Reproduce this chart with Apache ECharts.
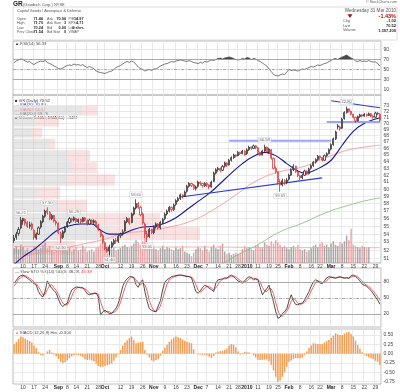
<!DOCTYPE html>
<html><head><meta charset="utf-8">
<script src="https://cdn.jsdelivr.net/npm/echarts@6/dist/echarts.min.js"></script>
<style>html,body{margin:0;padding:0;background:#fff}#c{width:400px;height:392px}</style>
</head><body><div id="c"></div>
<script>
// ---------- categories (trading days) ----------
const holidays = ['2009-09-07','2009-11-26','2009-12-25','2010-01-01','2010-01-18','2010-02-15'];
const dates = [];
for (let t = Date.UTC(2009,7,4); t <= Date.UTC(2010,2,31); t += 86400000) {
  const d = new Date(t), wd = d.getUTCDay(), s = d.toISOString().slice(0,10);
  if (wd === 0 || wd === 6 || holidays.includes(s)) continue;
  dates.push(s);
}
// ---------- price data ----------
const open = [53.2,53.6,54.1,54.8,55.7,55.9,55.5,55.0,55.3,54.5, 53.5,54.0,54.9,55.6,56.3,57.1,56.8,56.0,56.4,55.6, 55.4,54.1,53.6,54.3,55.0,55.5,56.0,55.8,56.0,55.6, 55.9,55.6,56.1,55.7,55.3,55.8,55.5,55.6,55.1,54.5, 53.8,52.9,52.2,51.9,52.4,52.8,53.2,53.1,53.8,54.0, 54.4,55.6,56.0,55.5,56.6,57.4,58.0,57.5,56.6,55.3, 54.0,53.7,54.6,54.2,54.9,55.3,54.8,55.5,56.0,56.6, 57.0,57.5,57.2,57.9,58.4,58.7,59.2,59.0,59.7,60.4, 60.8,60.6,60.1,60.4,61.0,60.8,60.5,60.8,60.6,60.3, 61.1,62.3,62.8,63.0,62.7,63.3,63.8,63.5,64.2,64.6, 65.0,64.9,65.4,65.2,65.6,65.2,65.8,66.2,66.0,66.4, 66.1,65.4,65.0,65.6,66.2,65.5,65.8,64.5,63.0,62.5, 61.0,60.6,61.2,60.9,61.4,62.0,62.8,63.3,62.5,61.9, 61.6,62.0,62.6,62.2,63.0,63.4,63.9,64.3,64.8,64.6, 64.2,64.9,65.2,65.9,66.6,67.5,69.6,69.4,69.2,70.8, 71.8,72.4,72.0,71.5,71.0,70.4,71.1,71.4,71.2,71.5, 71.3,71.6,71.2,71.0,71.7,71.46];
const high = [53.9,54.3,54.9,56.21,56.1,56.0,55.7,55.6,55.5,54.6, 54.2,55.0,55.8,56.5,57.2,57.50,57.0,56.6,56.5,55.8, 55.5,54.3,54.5,55.0,55.7,56.2,56.1,56.29,56.1,56.0, 56.0,56.2,56.2,55.9,56.0,55.9,55.9,55.8,55.3,54.6, 54.0,53.1,52.4,52.7,53.1,53.4,53.5,53.9,54.2,54.6, 55.8,56.2,56.1,56.8,57.6,58.60,58.2,57.7,56.8,55.5, 54.4,54.8,54.7,55.1,55.5,55.4,55.7,56.1,56.8,57.2, 57.7,57.6,58.0,58.6,58.9,59.4,59.3,59.8,60.6,61.0, 60.9,60.7,60.5,61.2,61.1,60.9,61.0,61.0,60.7,61.2, 62.5,63.0,63.2,63.1,63.5,64.0,63.9,64.4,64.8,65.2, 65.1,65.6,65.5,65.8,65.7,66.0,66.4,66.3,66.6,66.5, 66.2,65.5,65.8,66.58,66.3,66.1,65.9,64.6,63.3,62.6, 61.4,61.5,61.4,61.6,62.2,63.0,63.6,63.4,62.6,62.0, 62.2,62.8,62.7,63.1,63.6,64.1,64.5,65.0,64.9,64.7, 65.1,65.4,66.0,66.8,67.7,68.8,69.9,69.6,70.9,72.0, 72.80,72.5,72.1,71.6,71.1,71.3,71.6,71.5,71.7,71.6, 71.8,71.7,71.4,71.9,71.9,71.70];
const low = [52.9,53.3,53.8,54.6,55.2,55.1,54.8,54.7,54.5,53.3, 53.3,53.9,54.7,55.4,56.1,56.5,55.8,55.8,55.5,55.1, 54.0,52.90,53.4,54.1,54.8,55.3,55.5,55.6,55.4,55.4, 55.3,55.5,55.6,55.1,55.2,55.3,55.3,54.9,54.4,53.6, 52.8,52.0,51.7,51.40,52.2,52.6,52.8,52.9,53.5,53.8, 54.3,55.4,55.2,55.4,56.4,57.2,57.3,56.3,55.2,53.5, 53.00,53.5,54.0,54.0,54.7,54.6,54.6,55.3,55.8,56.4, 56.8,56.9,57.0,57.7,58.2,58.5,58.7,58.9,59.5,60.2, 60.3,59.9,59.8,60.2,60.5,60.2,60.3,60.3,60.0,60.2, 61.0,62.1,62.5,62.4,62.6,63.1,63.2,63.4,64.0,64.4, 64.6,64.8,65.0,65.1,64.9,65.0,65.6,65.8,65.9,65.9, 65.2,64.8,64.9,65.5,65.3,65.2,64.3,62.8,62.2,60.7, 59.65,60.4,60.6,60.7,61.2,61.9,62.6,62.3,61.7,61.3, 61.4,61.9,62.0,62.1,62.8,63.2,63.7,64.1,64.3,64.0, 64.1,64.7,65.1,65.7,66.4,67.3,69.0,68.8,69.1,70.6, 71.6,71.8,71.3,70.8,70.1,70.3,70.9,71.0,71.1,71.1, 71.2,71.0,70.8,70.9,71.3,70.24];
const close = [53.5,54.0,54.6,55.8,56.0,55.4,55.0,55.2,54.7,53.6, 54.0,54.8,55.6,56.3,57.0,56.8,56.0,56.4,55.7,55.4, 54.2,53.5,54.3,54.8,55.5,56.0,55.8,56.1,55.6,55.9, 55.6,56.1,55.8,55.3,55.8,55.5,55.7,55.0,54.6,53.8, 53.0,52.2,51.9,52.4,52.9,53.2,53.1,53.7,54.0,54.3, 55.6,56.0,55.4,56.6,57.4,58.0,57.5,56.5,55.4,54.0, 53.6,54.6,54.2,54.9,55.3,54.8,55.5,55.9,56.6,57.0, 57.5,57.2,57.8,58.4,58.7,59.2,59.0,59.6,60.4,60.8, 60.5,60.1,60.3,61.0,60.8,60.5,60.8,60.6,60.3,61.0, 62.3,62.8,63.0,62.7,63.3,63.8,63.5,64.2,64.6,65.0, 64.8,65.4,65.2,65.6,65.0,65.8,66.2,66.0,66.4,66.1, 65.4,65.0,65.6,66.2,65.5,65.9,64.5,63.0,62.5,61.0, 60.6,61.2,60.9,61.3,62.0,62.8,63.3,62.5,61.9,61.6, 62.0,62.6,62.2,62.9,63.4,63.9,64.3,64.8,64.6,64.2, 64.9,65.2,65.8,66.6,67.5,68.6,69.4,69.1,70.7,71.8, 72.4,72.0,71.5,71.0,70.4,71.1,71.4,71.2,71.5,71.3, 71.6,71.2,71.0,71.7,71.54,70.52];
const volume = [1.3,1.5,1.2,1.6,1.4, 1.1,1.3,1.0,1.2,1.5, 1.4,1.2,1.3,1.6,1.8, 1.3,1.5,1.1,1.0,1.2, 1.4,1.6,1.3,1.2,1.1, 1.3,1.0,1.2,1.4,1.1, 1.2,1.5,1.3,1.0,1.1, 1.2,1.0,1.3,1.4,1.7, 1.8,1.6,1.5,1.3,1.2, 1.4,1.1,1.2,1.3,1.5, 1.6,1.4,1.3,1.5,1.7, 2.0,1.8,1.6,1.9,2.2, 1.7,1.5,1.3,1.4,1.2, 1.1,1.3,1.5,1.2,1.4, 1.3,1.2,1.1,1.4,1.2, 1.3,1.5,1.0,0.9,0.8, 0.6,0.9,1.2,1.4,1.3, 1.1,1.5,1.2,1.0,1.4, 1.6,1.3,1.2,1.5,1.7, 1.0,0.8,0.9,0.7,0.8, 0.9,0.8,0.9,1.2,1.5, 1.3,1.4,1.2,1.1,1.5, 1.6,1.4,1.3,1.8,1.6, 1.5,1.9,1.7,2.0,1.8, 1.6,1.4,1.5,1.3,1.2, 1.4,1.5,1.3,1.6,1.2, 1.1,1.2,1.0,1.1,1.3, 1.5,1.6,1.4,1.7,1.8, 1.5,1.6,1.4,1.7,1.9, 1.6,1.5,1.8,1.7,1.9, 2.4,2.0,3.0,1.6,1.5, 1.4,1.3,1.5,1.4,1.3, 1.40];
const volEma = [[0,1.45],[40,1.38],[80,1.40],[120,1.35],[165,1.34]];
const ma20 = [[0,50.3],[4,51.2],[9,52.1],[13,53.0],[19,54.4],[24,55.0],[30,55.3],[35,55.3],[39,54.5],[43,54.0],[48,54.0],[53,54.5],[58,54.9],[63,55.0],[68,55.4],[73,56.1],[78,57.2],[83,58.3],[88,59.4],[93,60.8],[98,62.3],[103,63.7],[108,64.8],[113,65.4],[118,64.9],[123,63.7],[128,62.6],[131,62.3],[134,62.5],[138,63.1],[143,64.2],[148,66.5],[153,68.7],[158,70.0],[163,70.7],[165,70.93]];
const ma50 = [[0,51.0],[10,51.6],[20,52.1],[30,52.7],[40,53.3],[50,54.1],[60,54.4],[70,54.9],[80,55.7],[90,57.2],[100,59.2],[110,61.3],[120,62.5],[130,63.2],[140,64.5],[150,65.7],[160,66.3],[165,66.51]];
const ma200 = [[94,50.4],[100,51.3],[110,52.7],[120,54.3],[130,55.4],[140,56.7],[150,57.7],[160,58.5],[165,58.76]];
// volume by price bands
const vbpLow  = [71.2,69.4,67.6,65.8,64.0,62.2,60.4,58.6,56.8,55.0,53.2,51.4];
const vbpHigh = [73.0,71.2,69.4,67.6,65.8,64.0,62.2,60.4,58.6,56.8,55.0,53.2];
const vbpUp   = [18.8,6.0,4.9,9.8,14.9,16.0,14.7,6.5,12.0,19.6,26.4,7.3];
const vbpDown = [4.1,6.5,3.0,1.6,6.0,6.8,13.0,6.3,8.1,20.4,24.4,9.5];
// annotations [index, which]
const annots = [[3,'h'],[15,'h'],[21,'l'],[27,'h'],[43,'l'],[55,'h'],[60,'l'],[113,'h'],[120,'l'],[150,'h']];
// trendlines
const tlDark1 = [[143,73.8],[165,72.6]];
const tlDark2 = [[75,58.9],[139,61.6]];
const tlLight1 = [[141,70.2],[165,70.2]];
const tlLight2 = [[97,67.2],[143,67.2]];
// indicators
const rsi = [64,67,69,71,70,67,65,66,62,60, 63,65,67,66,68,64,62,60,57,55, 52,51,53,56,58,59,58,61,59,60, 58,60,56,54,56,54,52,47,45,44, 43,42,44,46,47,50,54,56,58,61, 64,66,64,67,65,60,55,52,50,47, 49,50,48,51,51,54,57,59,61,62, 64,66,65,67,68,69,68,67,66,68, 66,64,63,62,64,63,66,65,67,69, 68,70,72,73,71,73,74,75,74,72, 70,69,70,72,71,74,73,70,72,71, 68,66,63,60,57,51,46,40,38,37, 39,41,40,45,50,48,49,48,47,49, 51,50,52,54,56,55,57,59,58,60, 62,63,66,68,71,72,70,73,75,77, 79,76,73,71,67,66,68,66,67,66, 68,66,65,65,62,56.38];
const stoK = [78,83,89,92,93,90,87,84,80,77, 74,62,55,52,63,82,74,68,64,59, 48,38,34,38,40,55,65,68,71,70, 69,69,64,58,56,58,59,59,52,18, 24,27,24,21,21,26,31,40,55,72, 81,86,90,90,88,75,70,80,84,62, 44,30,27,25,24,35,45,65,80,84, 87,90,91,92,93,93,92,91,90,90, 88,75,62,59,63,70,74,72,68,66, 62,78,84,85,86,88,87,91,93,90, 86,82,80,78,82,87,90,88,84,86, 84,70,56,62,68,74,58,43,25,12, 14,21,24,30,45,56,45,38,37,40, 40,46,54,62,72,80,84,82,78,77, 82,88,90,89,88,87,89,90,88,87, 88,87,92,93,90,87,82,76,74,72, 68,64,58,52,46,38.28];
const stoD = [72,78,85,88,91,92,90,87,84,80, 77,71,64,56,57,66,73,75,69,64, 57,48,40,37,37,44,53,63,68,70, 70,69,67,64,59,57,58,59,57,43, 31,23,25,24,22,23,26,32,42,56, 69,80,86,89,89,84,78,75,78,75, 63,45,34,27,25,28,35,48,63,76, 84,87,89,91,92,93,93,92,91,90, 89,84,75,65,61,64,69,72,71,69, 65,69,75,82,85,86,87,89,90,91, 90,86,83,80,80,82,86,88,87,86, 85,80,70,63,62,68,67,58,42,27, 17,16,20,25,33,44,49,46,40,38, 39,42,47,54,63,71,79,82,81,79, 79,82,87,89,89,88,88,89,89,88, 88,87,89,91,92,90,86,82,77,74, 71,68,63,58,52,45.39];
const macdHist = [0.25,0.32,0.40,0.46,0.44,0.40,0.37,0.34,0.30,0.22, 0.15,0.04,-0.04,-0.05,0.0,0.06,0.10,0.03,-0.03,-0.07, -0.14,-0.22,-0.25,-0.23,-0.18,-0.12,-0.07,-0.04,-0.03,-0.04, -0.06,-0.09,-0.14,-0.17,-0.16,-0.18,-0.20,-0.26,-0.33,-0.36, -0.34,-0.32,-0.31,-0.29,-0.26,-0.19,-0.10,-0.02,0.10,0.22, 0.30,0.36,0.42,0.46,0.36,0.28,0.30,0.31,0.32,0.10, -0.03,-0.10,-0.18,-0.20,-0.17,-0.15,-0.05,0.08,0.16,0.24, 0.32,0.38,0.43,0.46,0.44,0.42,0.38,0.35,0.32,0.30, 0.28,0.12,0.0,-0.02,-0.02,-0.03,-0.02,-0.04,-0.08,-0.12, -0.06,0.03,0.05,0.07,0.08,0.10,0.14,0.22,0.26,0.24, 0.17,0.06,-0.03,0.02,0.05,0.04,0.03,0.0,-0.05,-0.10, -0.16,-0.17,-0.16,-0.15,-0.15,-0.20,-0.30,-0.45,-0.62,-0.75, -0.72,-0.62,-0.50,-0.35,-0.22,-0.18,-0.14,-0.12,-0.12,-0.12, -0.10,-0.04,0.06,0.15,0.22,0.28,0.27,0.26,0.26,0.26, 0.30,0.34,0.37,0.42,0.48,0.55,0.52,0.50,0.50,0.54, 0.57,0.59,0.52,0.46,0.35,0.23,0.13,0.04,-0.02,-0.06, -0.10,-0.12,-0.15,-0.19,-0.22,-0.304];
// tick labels
const priceTicks = [51,52,53,54,55,56,57,58,59,60,61,62,63,64,65,66,67,68,69,70,71,72,73];
const rsiTicks = [10,30,50,70,90];
const stoTicks = [20,50,80];
const macdTicks = [-0.75,-0.5,-0.25,0,0.25,0.5];

// ---------- build ----------
const L = Math.log;
const N = dates.length;
const mon = ['Jan','Feb','Mar','Apr','May','Jun','Jul','Aug','Sep','Oct','Nov','Dec'];
const labels = new Array(N).fill(null);
const monthStart = [];
for (let i = 1; i < N; i++) if (dates[i].slice(5,7) !== dates[i-1].slice(5,7)) monthStart.push(i);
monthStart.forEach(i => { const m = +dates[i].slice(5,7) - 1; labels[i] = '{b|' + (m === 0 ? dates[i].slice(0,4) : mon[m]) + '}'; });
const dow = s => new Date(s + 'T00:00:00Z').getUTCDay();
for (let i = 1; i < N; i++) {
  if (labels[i]) continue;
  if (dow(dates[i]) < dow(dates[i-1]) && !monthStart.some(j => Math.abs(j - i) <= 2)) labels[i] = String(+dates[i].slice(8,10));
}
const FONT = 'Liberation Sans, Arial, sans-serif';
const GL = '#e3e3e3';
const xCat = (g, show) => ({
  type: 'category', gridIndex: g, data: dates, boundaryGap: true,
  axisLine: {show: false}, axisTick: {show: false},
  axisLabel: {show: show, interval: (i) => labels[i] != null, formatter: (v, i) => labels[i] || '',
    fontSize: 5, color: '#444', margin: 1.5, fontFamily: FONT,
    rich: {b: {fontWeight: 'bold', fontSize: 5, color: '#222', fontFamily: FONT}}},
  splitLine: {show: true, interval: (i) => labels[i] != null, lineStyle: {color: GL, width: 0.8}}
});
const yVal = (g, min, max, ticks, fmt) => ({
  type: 'value', gridIndex: g, position: 'right', min: min, max: max,
  axisLine: {show: false}, axisTick: {show: false, customValues: ticks},
  axisLabel: {customValues: ticks, formatter: fmt, fontSize: 5, color: '#444', margin: 2.5, fontFamily: FONT},
  splitLine: {show: true, lineStyle: {color: GL, width: 0.8}}
});
const grids = [
  {left: 13, right: 19, top: 41, height: 54},
  {left: 13, right: 19, top: 95, height: 168},
  {left: 13, right: 19, top: 268, height: 59},
  {left: 13, right: 19, top: 329, height: 55}
].map(g => Object.assign(g, {show: true, borderColor: '#aaa', borderWidth: 0.8, backgroundColor: 'transparent'}));

const candleData = dates.map((d, i) => {
  const prev = i ? close[i-1] : open[i];
  const col = close[i] >= prev ? '#111' : '#d81818';
  return {value: [L(open[i]), L(close[i]), L(low[i]), L(high[i])],
    itemStyle: {color: '#fff', color0: col, borderColor: col, borderColor0: col}};
});
const lnPairs = arr => arr.map(p => [p[0], L(p[1])]);
const dashDot = [3, 1.5, 1, 1.5];

const option = {
  backgroundColor: '#fff',
  animation: false,
  grid: grids,
  xAxis: [xCat(0, false), xCat(1, true), xCat(2, false), xCat(3, true),
    {type: 'value', gridIndex: 1, min: 0, max: 100, show: false}],
  yAxis: [
    yVal(0, -1, 107, rsiTicks, v => String(v)),
    yVal(1, L(50.47), L(74.8), priceTicks.map(L), v => String(Math.round(Math.exp(v)))),
    {type: 'value', gridIndex: 1, min: 0, max: 14.7, show: false},
    yVal(2, -4.375, 106.25, stoTicks, v => String(v)),
    yVal(3, -0.8117, 0.6617, macdTicks, v => v.toFixed(2))
  ],
  series: [
    // RSI
    {type: 'line', xAxisIndex: 0, yAxisIndex: 0, data: rsi.map(v => Math.max(v, 70)), symbol: 'none',
      lineStyle: {width: 0}, areaStyle: {origin: 70, color: '#333', opacity: 0.9}, silent: true, z: 2},
    {type: 'line', xAxisIndex: 0, yAxisIndex: 0, data: rsi, symbol: 'none', lineStyle: {color: '#555', width: 0.8}, z: 3,
      markLine: {silent: true, symbol: 'none', label: {show: false},
        data: [{yAxis: 70, lineStyle: {color: '#999', width: 0.8, type: 'solid'}},
               {yAxis: 30, lineStyle: {color: '#999', width: 0.8, type: 'solid'}},
               {yAxis: 50, lineStyle: {color: '#999', width: 0.8, type: dashDot}}]}},
    // volume by price
    {type: 'custom', xAxisIndex: 4, yAxisIndex: 1, z: 1, silent: true,
      data: vbpLow.map((lo, i) => [L(lo), L(vbpHigh[i]), vbpUp[i], vbpDown[i]]),
      encode: {x: 2, y: [0, 1]},
      renderItem: (params, api) => {
        const lo = api.value(0), hi = api.value(1), g = api.value(2), p = api.value(3);
        const a = api.coord([0, hi]), b = api.coord([g, lo]), c = api.coord([g + p, lo]);
        const y = a[1] + 0.5, h = b[1] - a[1] - 1;
        return {type: 'group', children: [
          {type: 'rect', shape: {x: a[0], y: y, width: b[0] - a[0], height: h}, style: {fill: 'rgba(200,200,200,0.45)'}},
          {type: 'rect', shape: {x: b[0], y: y, width: c[0] - b[0], height: h}, style: {fill: 'rgba(240,160,160,0.3)'}}
        ]};
      }},
    // volume
    {type: 'bar', xAxisIndex: 1, yAxisIndex: 2, data: volume, barWidth: 1.5, z: 2, silent: true,
      itemStyle: {color: (p) => (close[p.dataIndex] >= (p.dataIndex ? close[p.dataIndex-1] : open[p.dataIndex]) ? 'rgba(140,140,140,0.75)' : 'rgba(232,120,120,0.65)')}},
    {type: 'line', xAxisIndex: 1, yAxisIndex: 2, data: volEma, symbol: 'none', smooth: true, lineStyle: {color: '#f3a0a0', width: 0.8}, z: 3},
    // moving averages
    {type: 'line', xAxisIndex: 1, yAxisIndex: 1, data: lnPairs(ma200), symbol: 'none', smooth: true, lineStyle: {color: '#8cbf8c', width: 0.9}, z: 3},
    {type: 'line', xAxisIndex: 1, yAxisIndex: 1, data: lnPairs(ma50), symbol: 'none', smooth: true, lineStyle: {color: '#f49a9a', width: 0.9}, z: 3},
    {type: 'line', xAxisIndex: 1, yAxisIndex: 1, data: lnPairs(ma20), symbol: 'none', smooth: 0.4, lineStyle: {color: '#16169a', width: 1.1}, z: 4},
    // trendlines
    {type: 'line', xAxisIndex: 1, yAxisIndex: 1, data: lnPairs(tlLight1), symbol: 'none', lineStyle: {color: '#9aa6f4', width: 2}, z: 4},
    {type: 'line', xAxisIndex: 1, yAxisIndex: 1, data: lnPairs(tlLight2), symbol: 'none', lineStyle: {color: '#9aa6f4', width: 2}, z: 4},
    {type: 'line', xAxisIndex: 1, yAxisIndex: 1, data: lnPairs(tlDark1), symbol: 'none', lineStyle: {color: '#2b3bd4', width: 1.1}, z: 4},
    {type: 'line', xAxisIndex: 1, yAxisIndex: 1, data: lnPairs(tlDark2), symbol: 'none', lineStyle: {color: '#2b3bd4', width: 1.1}, z: 4},
    // candles
    {type: 'candlestick', xAxisIndex: 1, yAxisIndex: 1, data: candleData, barWidth: 1.6, z: 5,
      itemStyle: {borderWidth: 0.7}},
    // annotations
    {type: 'scatter', xAxisIndex: 1, yAxisIndex: 1, symbolSize: 0, z: 6, silent: true,
      data: annots.map(a => {
        const v = a[1] === 'h' ? high[a[0]] : low[a[0]];
        return {value: [a[0], L(v)], label: {position: a[1] === 'h' ? 'top' : 'bottom', formatter: v.toFixed(2)}};
      }),
      label: {show: true, fontSize: 4.2, color: '#555', fontFamily: FONT, distance: 2,
        backgroundColor: '#fff', borderColor: '#bbb', borderWidth: 0.4, padding: [0.5, 1]}},
    // stochastics
    {type: 'line', xAxisIndex: 2, yAxisIndex: 3, data: stoD, symbol: 'none', lineStyle: {color: '#f23a3a', width: 0.8}, z: 3,
      markLine: {silent: true, symbol: 'none', label: {show: false},
        data: [{yAxis: 80, lineStyle: {color: '#999', width: 0.8, type: 'solid'}},
               {yAxis: 20, lineStyle: {color: '#999', width: 0.8, type: 'solid'}},
               {yAxis: 50, lineStyle: {color: '#999', width: 0.8, type: dashDot}}]}},
    {type: 'line', xAxisIndex: 2, yAxisIndex: 3, data: stoK, symbol: 'none', lineStyle: {color: '#222', width: 0.8}, z: 4},
    // MACD histogram
    {type: 'bar', xAxisIndex: 3, yAxisIndex: 4, data: macdHist, barWidth: 1.5, itemStyle: {color: '#f59c52'}, silent: true}
  ],
  graphic: []
};

// ---------- header / legends (text) ----------
const T = (x, y, text, o) => Object.assign({type: 'text', x: x, y: y, silent: true,
  style: Object.assign({text: text, fontSize: 4.2, fill: '#333', fontFamily: FONT, verticalAlign: 'middle'}, o || {})});
const g = option.graphic;
g.push({type: 'rect', shape: {x: 13, y: 7, width: 384, height: 33}, style: {fill: 'none', stroke: '#c8c8c8', lineWidth: 0.6}, silent: true});
g.push(T(13, 4.5, 'GR', {fontSize: 6.5, fontWeight: 'bold', fill: '#222'}));
g.push(T(23, 4.5, '(Goodrich Corp.) NYSE', {fontSize: 4, fill: '#555'}));
g.push(T(17, 11, 'Capital Goods / Aerospace & Defense', {fontSize: 3.8, fill: '#555'}));
const rows = [['Open','71.46','Ask','70.96','P/E','14.97'],['High','71.70','Ask Size','3','EPS','4.71'],
  ['Low','70.24','Bid','0.00','Last','0 shrs'],['Prev Close','71.54','Bid Size','0','VWAP','']];
rows.forEach((r, k) => {
  const y = 18.8 + k * 4.4;
  g.push(T(17, y, r[0], {fill: '#555', fontSize: 3.6}));
  g.push(T(43, y, r[1], {align: 'right', fontWeight: 'bold', fill: '#222', fontSize: 3.8}));
  g.push(T(47, y, r[2], {fill: '#555', fontSize: 3.6}));
  g.push(T(66, y, r[3], {align: 'right', fontWeight: 'bold', fill: '#222', fontSize: 3.8}));
  g.push(T(68.5, y, r[4], {fill: '#555', fontSize: 3.6}));
  g.push(T(83.5, y, r[5], {align: 'right', fontWeight: 'bold', fill: '#222', fontSize: 3.8}));
});
g.push(T(397, 1.8, '\u00a9 StockCharts.com', {align: 'right', fontSize: 3.6, fill: '#666'}));
g.push(T(396, 11, 'Wednesday 31 Mar 2010', {align: 'right', fontSize: 4.6, fill: '#555'}));
g.push({type: 'polygon', shape: {points: [[347.5, 14.3], [352.5, 14.3], [350, 18]]}, style: {fill: '#b01010'}, silent: true});
g.push(T(396, 16.2, '-1.43%', {align: 'right', fontSize: 5.5, fontWeight: 'bold', fill: '#b01010'}));
[['Chg', '-1.02', 21.2], ['Last', '70.52', 25.8], ['Volume', '1,397,200', 30.4]].forEach(r => {
  g.push(T(343, r[2], r[0], {fill: '#555', fontSize: 3.8}));
  g.push(T(396, r[2], r[1], {align: 'right', fontWeight: 'bold', fill: '#222', fontSize: 4}));
});
g.push(T(15, 43.6, '\u25b2 RSI(14) 56.38', {fill: '#444'}));
// main legend
g.push(T(15, 100.8, '\u25a0 GR (Daily) 70.52', {fill: '#333'}));
g.push(T(15, 105.1, '\u2014 MA(20) 70.93', {fill: '#3030b0'}));
g.push(T(15, 109.4, '\u2014 MA(50) 66.51', {fill: '#f05050'}));
g.push(T(15, 113.7, '\u2014 MA(200) 58.76', {fill: '#444'}));
g.push(T(15, 118.0, '\u25a0 Volume 1.40M, EMA(60) 1.34M', {fill: '#333'}));
g.push({type: 'text', x: 15, y: 271.5, silent: true, style: {text: '\u2014 Slow STO %K(14) %D(3) 38.28, {r|45.39}', fontSize: 4.2, fill: '#444', fontFamily: FONT, verticalAlign: 'middle', rich: {r: {fill: '#f03030', fontSize: 4.2, fontFamily: FONT}}}});
g.push({type: 'text', x: 15, y: 332.5, silent: true, style: {text: '{o|\u25b2} MACD(12,26,9) Hist -0.304', fontSize: 4.2, fill: '#444', fontFamily: FONT, verticalAlign: 'middle', rich: {o: {fill: '#f59c52', fontSize: 4.2}}}});

const chart = echarts.init(document.getElementById('c'));
chart.setOption(option);
</script>
</body></html>
